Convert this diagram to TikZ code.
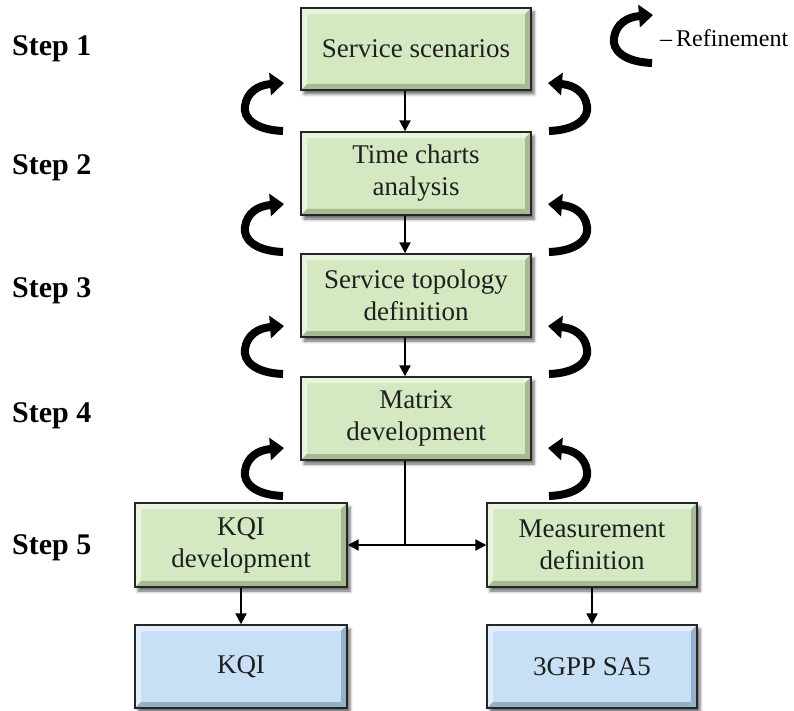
\documentclass[tikz,border=0pt]{standalone}
\usepackage{fontspec}
\setmainfont{Liberation Serif}
\usetikzlibrary{arrows.meta,shadows.blur}

\definecolor{facegreen}{RGB}{212,233,194}
\definecolor{litegreen}{RGB}{232,244,222}
\definecolor{darkgreen}{RGB}{165,186,146}
\definecolor{faceblue}{RGB}{200,224,245}
\definecolor{liteblue}{RGB}{226,239,250}
\definecolor{darkblue}{RGB}{148,176,203}

\tikzset{
  bevel/.style 2 args={path picture={
    \fill[#1] (path picture bounding box.north west) -- (path picture bounding box.north east)
      -- ([shift={(-6pt,-6pt)}]path picture bounding box.north east)
      -- ([shift={(6pt,-6pt)}]path picture bounding box.north west) -- cycle;
    \fill[#1] (path picture bounding box.north west) -- (path picture bounding box.south west)
      -- ([shift={(6pt,6pt)}]path picture bounding box.south west)
      -- ([shift={(6pt,-6pt)}]path picture bounding box.north west) -- cycle;
    \fill[#2] (path picture bounding box.south west) -- (path picture bounding box.south east)
      -- ([shift={(-6pt,6pt)}]path picture bounding box.south east)
      -- ([shift={(6pt,6pt)}]path picture bounding box.south west) -- cycle;
    \fill[#2] (path picture bounding box.south east) -- (path picture bounding box.north east)
      -- ([shift={(-6pt,-6pt)}]path picture bounding box.north east)
      -- ([shift={(-6pt,6pt)}]path picture bounding box.south east) -- cycle;
  }},
  box/.style={draw=black!85, line width=1.4pt, align=center, text=black!88,
    font=\fontsize{27}{32}\selectfont, inner sep=0pt,
    blur shadow={shadow xshift=3pt, shadow yshift=-4pt, shadow blur radius=3pt, shadow opacity=60}},
  greenbox/.style={box, fill=facegreen, bevel={litegreen}{darkgreen}},
  bluebox/.style={box, fill=faceblue, bevel={liteblue}{darkblue}},
  steplabel/.style={anchor=base west, inner sep=0pt, font=\fontsize{30}{34}\selectfont\bfseries},
  conn/.style={line width=2.1pt, draw=black, -{Triangle[length=11pt,width=11pt]}},
  bothconn/.style={line width=2.1pt, draw=black, {Triangle[length=11pt,width=11pt]}-{Triangle[length=11pt,width=11pt]}},
  refine/.pic={
    \draw[line width=8pt, -{Triangle[length=14pt,width=22pt]}]
      (-1,48) .. controls (-29,47) and (-41,35) .. (-39,23)
      .. controls (-37,9) and (-26,2) .. (0,0);
  }
}

\begin{document}
\begin{tikzpicture}[x=1pt,y=-1pt]
\useasboundingbox (0,0) rectangle (794,711);

% process boxes
\node[greenbox, minimum width=230pt, minimum height=82pt] (s1) at (416,49) {Service scenarios};
\node[greenbox, minimum width=230pt, minimum height=83pt] (s2) at (416,173.5) {Time charts\\analysis};
\node[greenbox, minimum width=230pt, minimum height=83pt] (s3) at (416,295.5) {Service topology\\definition};
\node[greenbox, minimum width=230pt, minimum height=83pt] (s4) at (416,418.5) {Matrix\\development};
\node[greenbox, minimum width=212pt, minimum height=84pt] (kqid) at (241,545) {KQI\\development};
\node[greenbox, minimum width=210pt, minimum height=84pt] (meas) at (592,545) {Measurement\\definition};
\node[bluebox, minimum width=212pt, minimum height=83pt] (kqi) at (241,666.5) {KQI};
\node[bluebox, minimum width=210pt, minimum height=83pt] (sa5) at (592,666.5) {3GPP SA5};

% step labels
\node[steplabel] (st1) at (12,56) {Step 1};
\node[steplabel] (st2) at (12,175) {Step 2};
\node[steplabel] (st3) at (12,297) {Step 3};
\node[steplabel] (st4) at (12,422) {Step 4};
\node[steplabel] (st5) at (12,554) {Step 5};

% legend
\pic at (653,15) {refine};
\node[anchor=base west, inner sep=0pt, font=\fontsize{24}{28}\selectfont] (leg) at (660,47) {–\kern4pt Refinement};

% main flow
\coordinate (spine) at (405,0);
\draw[conn] (s1.south -| spine) -- (s2.north -| spine);
\draw[conn] (s2.south -| spine) -- (s3.north -| spine);
\draw[conn] (s3.south -| spine) -- (s4.north -| spine);
\draw[line width=2.1pt] (s4.south -| spine) -- (spine |- kqid.east);
\draw[bothconn] (kqid.east) -- (meas.west);
\draw[conn] (kqid.south) -- (kqi.north);
\draw[conn] (meas.south) -- (sa5.north);

% refinement loops between steps
\foreach \y in {83,204,326,448} {
  \pic at (284,\y) {refine};
  \pic[xscale=-1] at (548,\y) {refine};
}
\end{tikzpicture}
\end{document}
